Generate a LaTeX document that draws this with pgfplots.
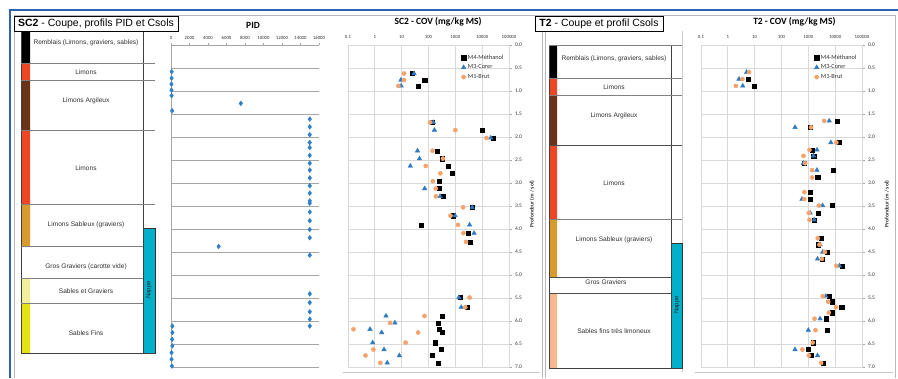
\documentclass[border=0pt]{standalone}
\usepackage{fontspec}
\setmainfont{Carlito}
\newfontfamily\arial{Liberation Sans}
\usepackage{pgfplots}
\usepackage{pgfplotstable}
\pgfplotsset{compat=1.18}
\definecolor{frameblue}{HTML}{2A64B0}
\definecolor{lred}{HTML}{EE4527}
\definecolor{lbrown}{HTML}{6A3317}
\definecolor{lochre}{HTML}{D69A2D}
\definecolor{lpale}{HTML}{F2EF9C}
\definecolor{lyellow}{HTML}{E5E212}
\definecolor{lpeach}{HTML}{F8B88D}
\definecolor{nappe}{HTML}{00AFC9}
\definecolor{gridg}{HTML}{D9D9D9}
\definecolor{pidgrid}{HTML}{A6A6A6}
\definecolor{m3}{HTML}{2E7BC4}
\definecolor{m1}{HTML}{F4A36B}
\definecolor{pidblue}{HTML}{2F80C8}
\definecolor{txt}{HTML}{303030}

% PID (ppm) vs depth (m)
\pgfplotstableread{
pid depth
80 0.58
60 0.72
50 0.85
50 0.98
70 1.10
7550 1.27
120 1.43
15000 1.61
15000 1.78
15000 1.95
15000 2.12
15000 2.23
15000 2.40
15000 2.57
15000 2.72
15000 2.89
15000 3.06
15000 3.22
15000 3.39
15000 3.44
15000 3.63
15000 3.82
15000 4.01
15000 4.19
5150 4.38
15000 4.57
15000 5.41
15000 5.60
15000 5.80
15000 5.96
15000 6.11
150 6.11
150 6.25
120 6.40
150 6.54
60 6.69
60 6.83
100 6.98
}\pid

\pgfplotstableread{
v depth
25 0.62
72 0.76
40 0.89
141 1.68
10200 1.85
26000 2.02
204 2.30
330 2.47
525 2.63
775 2.79
250 2.96
250 3.12
363 3.29
4270 3.53
850 3.71
55 3.91
3000 4.09
3470 4.28
1510 5.49
2800 5.70
330 5.89
235 6.04
250 6.18
316 6.25
182 6.47
295 6.62
135 6.75
224 6.91
}\scmfour

\pgfplotstableread{
v depth
29 0.62
9.4 0.76
9.6 0.89
151 1.68
166 1.85
21000 2.02
39 2.30
46 2.47
21 2.63
72 3.12
270 3.29
4270 3.53
980 3.71
3400 3.91
5000 4.09
1350 5.49
1650 5.70
2.6 5.89
5.6 6.04
0.66 6.18
1.8 6.25
0.83 6.47
2.2 6.62
8.2 6.75
2.9 6.91
}\scmthree

\pgfplotstableread{
v depth
12.3 0.62
12.3 0.76
7.5 0.89
115 1.68
1000 1.85
14500 2.02
141 2.30
345 2.47
79 2.63
276 2.79
145 2.96
186 3.12
190 3.29
1950 3.53
660 3.71
1260 3.91
2000 4.09
2500 4.28
3400 5.49
2350 5.70
71 5.89
3.7 6.04
0.16 6.18
41 6.25
14 6.47
0.88 6.62
0.45 6.75
1.6 6.91
}\scmone

\pgfplotstableread{
v depth
5.6 0.74
9.8 0.89
11500 1.65
1200 1.79
14500 2.12
1400 2.28
1580 2.41
690 2.57
8700 2.72
2240 2.88
1170 3.20
1170 3.35
7900 3.49
2400 3.65
1650 3.80
3100 4.20
2400 4.34
4900 4.50
3200 4.65
17800 4.80
6000 5.46
7700 5.58
17400 5.70
7600 5.82
4500 5.95
5000 6.20
1500 6.47
980 6.62
1320 6.75
3600 6.91
}\tmfour

\pgfplotstableread{
v depth
5.0 0.59
2.6 0.74
3.6 0.89
6000 1.65
320 1.79
6900 2.12
2100 2.28
1550 2.41
650 2.57
2100 2.72
580 3.35
3400 3.49
1170 3.65
1650 3.80
2750 4.34
3450 4.50
2200 4.65
14500 4.80
4500 5.46
2750 5.95
1000 6.20
320 6.62
2200 6.75
}\tmthree

\pgfplotstableread{
v depth
6.2 0.59
3.5 0.74
2.0 0.89
3900 1.65
1260 1.79
11000 2.12
1100 2.28
660 2.41
760 2.57
1380 2.72
1380 2.88
710 3.20
710 3.35
2450 3.49
1050 3.65
1100 3.80
2240 4.20
2600 4.34
4150 4.50
3200 4.65
11000 4.80
3450 5.46
5500 5.58
10700 5.70
5800 5.82
1700 5.95
1850 6.20
1450 6.47
600 6.62
1050 6.75
3000 6.91
}\tmone

\pgfplotsset{
  covaxis/.style={
    anchor=south west, width=161pt, height=322pt, scale only axis,
    xmin=0.1, xmax=100000, ymin=0, ymax=7, y dir=reverse,
    xtick={0.1,1,10,100,1000,10000,100000},
    xticklabels={0.1,1,10,100,1000,10000,100000},
    xminorticks=false, xticklabel pos=upper,
    ytick={0,0.5,...,7}, ytick pos=right, yticklabel pos=right,
    yticklabel style={font=\fontsize{5.5}{6}\selectfont, text=txt,
      /pgf/number format/.cd, fixed, fixed zerofill, precision=1, assume math mode=true},
    xticklabel style={font=\fontsize{4.8}{5}\selectfont, text=txt},
    grid=major, grid style={gridg, line width=0.8pt},
    axis line style={draw=gridg, line width=0.8pt},
    tick align=outside, major tick length=2.5pt,
    x tick style={draw=none}, y tick style={draw=gray!70},
    clip=false,
    legend style={at={(0.70,0.978)}, anchor=north west, draw=none, fill=none,
      font=\fontsize{6.3}{7}\selectfont, text=txt, row sep=0pt, inner sep=0.5pt},
    legend cell align=left,
  },
  m4s/.style={only marks, mark=square*, mark size=2.1pt, color=black},
  m3s/.style={only marks, mark=triangle*, mark size=2.6pt, color=m3},
  m1s/.style={only marks, mark=*, mark size=2.1pt, color=m1},
}

\begin{document}
\begin{tikzpicture}
\useasboundingbox (0,0) rectangle (898pt,378pt);
% ---------------- canvas with frame and stratigraphic logs ----------------
\begin{axis}[at={(0pt,0pt)}, anchor=south west, width=898pt, height=378pt, scale only axis,
  xmin=0, xmax=898, ymin=0, ymax=378, y dir=reverse, hide axis, clip=false]
% frame
\addplot[gray!55, line width=0.7pt] coordinates {(14,378) (14,15) (895,15) (895,378)};
\addplot[frameblue, line width=2.6pt] coordinates {(10,378) (10,10) (898,10)};
\addplot[gray!55, line width=0.6pt] coordinates {(542,15) (542,378)};
\addplot[gray!55, line width=0.6pt] coordinates {(545,15) (545,378)};
\addplot[gray!40, line width=0.6pt] coordinates {(682,31) (682,372)};
\addplot[gray!45, line width=0.6pt] coordinates {(343,372) (540,372)};
\addplot[gray!45, line width=0.6pt] coordinates {(695,372) (893,372)};
% SC2 strip
\addplot[fill=black, draw=none] coordinates {(21,31) (30,31) (30,63) (21,63) (21,31)};
\addplot[fill=lred, draw=none] coordinates {(21,63) (30,63) (30,80) (21,80) (21,63)};
\addplot[fill=lbrown, draw=none] coordinates {(21,80) (30,80) (30,130) (21,130) (21,80)};
\addplot[fill=lred, draw=none] coordinates {(21,130) (30,130) (30,204) (21,204) (21,130)};
\addplot[fill=lochre, draw=none] coordinates {(21,204) (30,204) (30,246) (21,246) (21,204)};
\addplot[fill=lpale, draw=none] coordinates {(21,278) (30,278) (30,303) (21,303) (21,278)};
\addplot[fill=lyellow, draw=none] coordinates {(21,303) (30,303) (30,353) (21,353) (21,303)};
\addplot[fill=nappe, draw=black!80, line width=0.7pt] coordinates {(143,228) (155,228) (155,353) (143,353) (143,228)};
\addplot[black!75, line width=0.7pt] coordinates {(21,31) (21,353)};
\addplot[black!75, line width=0.7pt] coordinates {(143,31) (143,353)};
\addplot[gray, line width=0.6pt] coordinates {(21,63) (155,63)};
\addplot[gray, line width=0.6pt] coordinates {(21,80) (155,80)};
\addplot[gray, line width=0.6pt] coordinates {(21,130) (155,130)};
\addplot[gray, line width=0.6pt] coordinates {(21,204) (155,204)};
\addplot[gray, line width=0.6pt] coordinates {(21,246) (143,246)};
\addplot[gray, line width=0.6pt] coordinates {(21,278) (143,278)};
\addplot[gray, line width=0.6pt] coordinates {(21,303) (143,303)};
\addplot[black!75, line width=0.8pt] coordinates {(21,353) (155,353)};
\addplot[fill=white, draw=black, line width=0.8pt] coordinates {(14,16) (178,16) (178,31) (14,31) (14,16)};
\node[font=\arial\fontsize{10.5}{11}\selectfont, text=black] at (axis cs:96,23.5) {\textbf{SC2} - Coupe, profils PID et Csols};
\begin{scope}[every node/.style={font=\arial\fontsize{6.6}{7}\selectfont, text=txt}]
\node at (axis cs:86,43) {Remblais (Limons, graviers, sables)};
\node at (axis cs:86,72) {Limons};
\node at (axis cs:86,101) {Limons Argileux};
\node at (axis cs:86,168) {Limons};
\node at (axis cs:86,225) {Limons Sableux (graviers)};
\node at (axis cs:86,267) {Gros Graviers (carotte vide)};
\node at (axis cs:86,291) {Sables et Graviers};
\node at (axis cs:86,333) {Sables Fins};
\end{scope}
\node[rotate=90, font=\arial\fontsize{6}{6}\selectfont, text=black!85] at (axis cs:149,290) {Nappe};
% T2 strip
\addplot[fill=black, draw=none] coordinates {(549,45) (557,45) (557,78) (549,78) (549,45)};
\addplot[fill=lred, draw=none] coordinates {(549,78) (557,78) (557,95) (549,95) (549,78)};
\addplot[fill=lbrown, draw=none] coordinates {(549,95) (557,95) (557,145) (549,145) (549,95)};
\addplot[fill=lred, draw=none] coordinates {(549,145) (557,145) (557,219) (549,219) (549,145)};
\addplot[fill=lochre, draw=none] coordinates {(549,219) (557,219) (557,277) (549,277) (549,219)};
\addplot[fill=lpeach, draw=none] coordinates {(549,293) (557,293) (557,368) (549,368) (549,293)};
\addplot[fill=nappe, draw=black!80, line width=0.7pt] coordinates {(671,243) (682,243) (682,368) (671,368) (671,243)};
\addplot[black!75, line width=0.7pt] coordinates {(549,45) (549,368)};
\addplot[black!75, line width=0.7pt] coordinates {(671,45) (671,368)};
\addplot[gray, line width=0.6pt] coordinates {(549,45) (682,45)};
\addplot[gray, line width=0.6pt] coordinates {(549,78) (682,78)};
\addplot[gray, line width=0.6pt] coordinates {(549,95) (682,95)};
\addplot[black!70, line width=0.6pt] coordinates {(549,145) (682,145)};
\addplot[gray, line width=0.6pt] coordinates {(549,219) (682,219)};
\addplot[black!70, line width=0.6pt] coordinates {(549,277) (671,277)};
\addplot[black!70, line width=0.6pt] coordinates {(549,293) (671,293)};
\addplot[black!75, line width=0.8pt] coordinates {(549,368) (682,368)};
\addplot[fill=white, draw=black, line width=0.8pt] coordinates {(535,16) (663,16) (663,31) (535,31) (535,16)};
\node[font=\arial\fontsize{10.5}{11}\selectfont, text=black] at (axis cs:599,23.5) {\textbf{T2} - Coupe et profil Csols};
\begin{scope}[every node/.style={font=\arial\fontsize{6.6}{7}\selectfont, text=txt}]
\node at (axis cs:614,59) {Remblais (Limons, graviers, sables)};
\node at (axis cs:614,87) {Limons};
\node at (axis cs:614,116) {Limons Argileux};
\node at (axis cs:614,183) {Limons};
\node at (axis cs:614,240) {Limons Sableux (graviers)};
\node at (axis cs:606,282) {Gros Graviers};
\node at (axis cs:614,331) {Sables fins très limoneux};
\end{scope}
\node[rotate=90, font=\arial\fontsize{6}{6}\selectfont, text=black!85] at (axis cs:677,305) {Nappe};
\end{axis}

% ---------------- PID ----------------
\begin{axis}[at={(171pt,11pt)}, anchor=south west, width=148pt, height=322pt, scale only axis,
  xmin=0, xmax=16000, ymin=0, ymax=7, y dir=reverse,
  axis x line*=top, axis y line*=left,
  axis line style={draw=pidgrid, line width=0.6pt},
  xtick={0,2000,...,16000}, scaled x ticks=false,
  xticklabel style={font=\fontsize{4.8}{5}\selectfont, text=txt,
    /pgf/number format/.cd, fixed, 1000 sep={}, assume math mode=true},
  ytick={0,0.5,...,7}, yticklabels={}, ymajorgrids, grid style={pidgrid, line width=0.6pt},
  y tick style={draw=none}, x tick style={draw=pidgrid}, tick align=outside, major tick length=2pt,
  clip=false]
\addplot[only marks, mark=diamond*, mark size=2.4pt, color=pidblue] table[x=pid, y=depth] {\pid};
\node[font=\bfseries\fontsize{9.5}{10}\selectfont, text=black] at (axis description cs:0.554,1.062) {PID};
\end{axis}

% ---------------- SC2 COV ----------------
\begin{axis}[xmode=log, covaxis, at={(348pt,11pt)}]
\addplot[m4s] table[x=v, y=depth] {\scmfour};
\addlegendentry{M4-Méthanol}
\addplot[m3s] table[x=v, y=depth] {\scmthree};
\addlegendentry{M3-Corer}
\addplot[m1s] table[x=v, y=depth] {\scmone};
\addlegendentry{M1-Brut}
\node[font=\bfseries\fontsize{9.5}{10}\selectfont, text=black] at (axis description cs:0.56,1.071) {SC2 - COV (mg/kg MS)};
\node[rotate=90, font=\bfseries\fontsize{5.5}{6}\selectfont, text=txt] at (axis description cs:1.143,0.506) {Profondeur (m / sol)};
\end{axis}

% ---------------- T2 COV ----------------
\begin{axis}[xmode=log, covaxis, at={(701pt,11pt)}]
\addplot[m4s] table[x=v, y=depth] {\tmfour};
\addlegendentry{M4-Méthanol}
\addplot[m3s] table[x=v, y=depth] {\tmthree};
\addlegendentry{M3-Corer}
\addplot[m1s] table[x=v, y=depth] {\tmone};
\addlegendentry{M1-Brut}
\node[font=\bfseries\fontsize{9.5}{10}\selectfont, text=black] at (axis description cs:0.58,1.071) {T2 - COV (mg/kg MS)};
\node[rotate=90, font=\bfseries\fontsize{5.5}{6}\selectfont, text=txt] at (axis description cs:1.155,0.506) {Profondeur (m / sol)};
\end{axis}
\end{tikzpicture}
\end{document}
